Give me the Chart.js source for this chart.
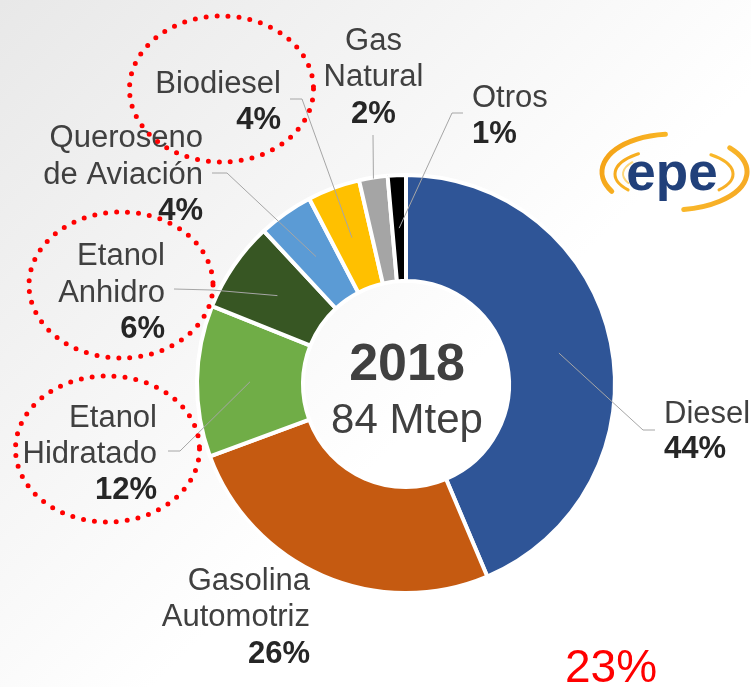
<!DOCTYPE html>
<html>
<head>
<meta charset="utf-8">
<script src="https://cdn.jsdelivr.net/npm/chart.js@4.4.1/dist/chart.umd.min.js"></script>
<style>
  html, body { margin: 0; padding: 0; background: #ffffff; }
  #wrap { width: 751px; height: 687px; position: relative; }
</style>
</head>
<body>
<div id="wrap"><canvas id="c" width="751" height="687"></canvas></div>
<script>
// ---- data ----
const categories = ['Diesel', 'Gasolina\nAutomotriz', 'Etanol\nHidratado', 'Etanol\nAnhidro',
                    'Queroseno\nde Aviación', 'Biodiesel', 'Gas\nNatural', 'Otros'];
const shares = [43.6, 25.7, 11.7, 7.0, 4.25, 4.05, 2.2, 1.4];
const pctLabels = ['44%', '26%', '12%', '6%', '4%', '4%', '2%', '1%'];
const centerYear = '2018';
const centerTotal = '84 Mtep';
const noteText = '23%';

// ---- styles / layout ----
const sliceColors = ['#2F5597', '#C55A11', '#70AD47', '#375623', '#5B9BD5', '#FFC000', '#A5A5A5', '#000000'];
const labelLayout = [
  { align: 'left',   x: 664,   base: [423, 458],      lead: [[655, 430], [643, 430]] },
  { align: 'right',  x: 310,   base: [590, 626, 663], lead: null },
  { align: 'right',  x: 157,   base: [427, 463, 499], lead: [[168, 451], [180, 451]] },
  { align: 'right',  x: 165,   base: [265, 302, 338], lead: [[174, 289], [212, 290]] },
  { align: 'right',  x: 203,   base: [147, 184, 220], lead: [[212, 173], [227, 173]] },
  { align: 'right',  x: 281,   base: [93, 129],       lead: [[290, 99], [302, 99]] },
  { align: 'center', x: 373.5, base: [50, 86, 123],   lead: [[373, 135]], outerTip: true },
  { align: 'left',   x: 472,   base: [107, 143],      lead: [[463, 113], [452, 113]] }
];
const ellipses = [
  { cx: 221.5, cy: 89,  rx: 92, ry: 73 },
  { cx: 121,   cy: 285, rx: 92, ry: 73 },
  { cx: 107.5, cy: 449, rx: 92, ry: 73 }
];

function drawLogo(ctx) {
  const cx = 672, cy = 172;
  ctx.save();
  const g = ctx.createLinearGradient(600, 130, 745, 215);
  g.addColorStop(0, '#F39C12');
  g.addColorStop(0.5, '#FBC02D');
  g.addColorStop(1, '#F5A623');
  ctx.strokeStyle = g;
  ctx.lineCap = 'round';
  ctx.lineWidth = 5;
  ctx.beginPath(); ctx.ellipse(cx, cy, 70, 38, 0, 0.83 * Math.PI, 1.47 * Math.PI); ctx.stroke();
  ctx.beginPath(); ctx.ellipse(cx, cy, 75, 38, 0, -0.22 * Math.PI, 0.45 * Math.PI); ctx.stroke();
  ctx.lineWidth = 3;
  ctx.beginPath(); ctx.ellipse(cx, cy + 2, 57, 25, 0, 0.78 * Math.PI, 1.3 * Math.PI); ctx.stroke();
  ctx.beginPath(); ctx.ellipse(cx, cy + 2, 61, 25, 0, -0.28 * Math.PI, 0.22 * Math.PI); ctx.stroke();
  ctx.lineWidth = 2;
  ctx.strokeStyle = '#FDD77A';
  ctx.beginPath(); ctx.ellipse(cx, cy + 2, 49, 20, 0, 0.85 * Math.PI, 1.2 * Math.PI); ctx.stroke();
  ctx.fillStyle = '#21407A';
  ctx.font = 'bold 53px "Liberation Sans", Arial, sans-serif';
  ctx.textAlign = 'center';
  ctx.textBaseline = 'alphabetic';
  ctx.fillText('epe', cx, 190);
  ctx.restore();
}

function drawDottedEllipse(ctx, e) {
  ctx.save();
  ctx.strokeStyle = '#FF0000';
  ctx.lineWidth = 5;
  ctx.lineCap = 'round';
  ctx.setLineDash([0, 11]);
  ctx.beginPath();
  ctx.ellipse(e.cx, e.cy, e.rx, e.ry, 0, 0, Math.PI * 2);
  ctx.stroke();
  ctx.restore();
}

const bgPlugin = {
  id: 'bg',
  beforeDraw(chart) {
    const ctx = chart.ctx;
    ctx.save();
    const g = ctx.createLinearGradient(0, 0, 420, 420);
    g.addColorStop(0, '#E8E8E8');
    g.addColorStop(1, '#FFFFFF');
    ctx.fillStyle = g;
    ctx.fillRect(0, 0, chart.width, chart.height);
    ctx.restore();
  }
};

const annotPlugin = {
  id: 'annot',
  afterDatasetsDraw(chart) {
    const ctx = chart.ctx;
    const meta = chart.getDatasetMeta(0);
    ctx.save();
    ctx.strokeStyle = '#A6A6A6';
    ctx.lineWidth = 1;
    meta.data.forEach((arc, i) => {
      const L = labelLayout[i];
      if (!L.lead) return;
      let tip;
      if (L.outerTip) {
        const mid = (arc.startAngle + arc.endAngle) / 2;
        const r = arc.outerRadius - 1;
        tip = { x: arc.x + r * Math.cos(mid), y: arc.y + r * Math.sin(mid) };
      } else {
        tip = arc.tooltipPosition();
      }
      ctx.beginPath();
      ctx.moveTo(L.lead[0][0], L.lead[0][1]);
      for (let k = 1; k < L.lead.length; k++) ctx.lineTo(L.lead[k][0], L.lead[k][1]);
      ctx.lineTo(tip.x, tip.y);
      ctx.stroke();
    });
    ctx.textBaseline = 'alphabetic';
    categories.forEach((name, i) => {
      const L = labelLayout[i];
      const lines = name.split('\n');
      ctx.textAlign = L.align;
      ctx.fillStyle = '#404040';
      ctx.font = '31px "Liberation Sans", Arial, sans-serif';
      lines.forEach((ln, k) => ctx.fillText(ln, L.x, L.base[k]));
      ctx.fillStyle = '#262626';
      ctx.font = 'bold 31px "Liberation Sans", Arial, sans-serif';
      ctx.fillText(pctLabels[i], L.x, L.base[lines.length]);
    });
    const a0 = meta.data[0];
    ctx.textAlign = 'center';
    ctx.fillStyle = '#404040';
    ctx.font = 'bold 52px "Liberation Sans", Arial, sans-serif';
    ctx.fillText(centerYear, a0.x + 1, 380);
    ctx.font = '42px "Liberation Sans", Arial, sans-serif';
    ctx.fillText(centerTotal, a0.x + 1, 433);
    ellipses.forEach(e => drawDottedEllipse(ctx, e));
    ctx.textAlign = 'left';
    ctx.fillStyle = '#FF0000';
    ctx.font = '46px "Liberation Sans", Arial, sans-serif';
    ctx.fillText(noteText, 565, 682);
    drawLogo(ctx);
    ctx.restore();
  }
};

new Chart(document.getElementById('c'), {
  type: 'doughnut',
  data: {
    labels: categories.map(s => s.replace('\n', ' ')),
    datasets: [{
      data: shares,
      backgroundColor: sliceColors,
      borderColor: '#FFFFFF',
      borderWidth: 4
    }]
  },
  options: {
    responsive: false,
    animation: false,
    radius: 209,
    cutout: '49.3%',
    rotation: 0,
    layout: { padding: { left: 61, right: 0, top: 81, bottom: 0 } },
    plugins: { legend: { display: false }, tooltip: { enabled: false } }
  },
  plugins: [bgPlugin, annotPlugin]
});
</script>
</body>
</html>
